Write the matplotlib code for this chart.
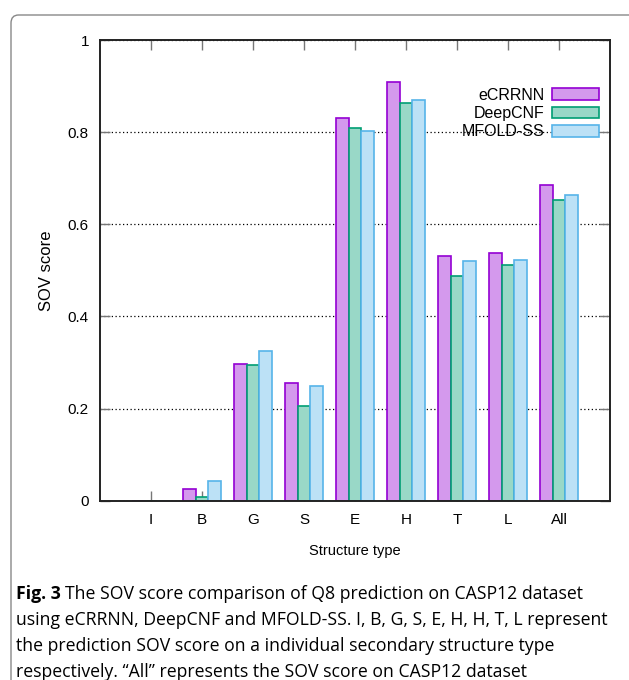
#!/usr/bin/env python3
"""SOV score comparison of Q8 prediction on CASP12 (eCRRNN, DeepCNF, MFOLD-SS)."""

import matplotlib

matplotlib.use("Agg")
import matplotlib.pyplot as plt
import numpy as np
from matplotlib.patches import FancyBboxPatch

categories = ["I", "B", "G", "S", "E", "H", "T", "L", "All"]
ecrrnn = [0.0, 0.025, 0.297, 0.256, 0.830, 0.908, 0.531, 0.538, 0.685]
deepcnf = [0.0, 0.008, 0.295, 0.205, 0.808, 0.863, 0.487, 0.511, 0.652]
mfold = [0.0, 0.043, 0.325, 0.248, 0.803, 0.869, 0.521, 0.523, 0.663]
series_names = ["eCRRNN", "DeepCNF", "MFOLD-SS"]
y_ticks = [0, 0.2, 0.4, 0.6, 0.8, 1.0]
y_tick_labels = ["0", "0.2", "0.4", "0.6", "0.8", "1"]

edge_colors = ["#9400d3", "#009e73", "#56b4e9"]
fill_colors = ["#d499ed", "#99d8c7", "#bce1f6"]

plt.rcParams["font.family"] = ["Liberation Sans Narrow", "Liberation Sans", "DejaVu Sans"]

W, H = 629, 680
fig = plt.figure(figsize=(W / 100, H / 100), dpi=100)

# rounded frame around figure and caption
frame = FancyBboxPatch(
    (11 / W, -20 / H), 660 / W, (H - 15 + 20) / H,
    boxstyle="round,pad=0,rounding_size=0.012",
    transform=fig.transFigure, facecolor="none", edgecolor="#888888", lw=1.0,
)
fig.patches.append(frame)

ax = fig.add_axes([100 / W, 1 - 500.7 / H, 510 / W, 460.7 / H])
x = np.arange(1, len(categories) + 1)
width = 0.25
for i, (vals, name) in enumerate(zip([ecrrnn, deepcnf, mfold], series_names)):
    ax.bar(
        x + (i - 1) * width, vals, width,
        facecolor=fill_colors[i], edgecolor=edge_colors[i], linewidth=1.2,
        label=name, zorder=2,
    )

ax.set_xlim(0, 10)
ax.set_ylim(0, 1)
ax.set_xticks(x)
ax.set_xticklabels(categories, fontsize=11)
ax.set_yticks(y_ticks)
ax.set_yticklabels(y_tick_labels, fontsize=11)
ax.tick_params(direction="in", length=7, width=1, color="#777777",
               top=True, right=True, pad=9)
ax.tick_params(axis="y", pad=8)
ax.yaxis.grid(True, linestyle=(0, (1, 2)), color="black", linewidth=0.9)
ax.set_axisbelow(True)
for spine in ax.spines.values():
    spine.set_linewidth(1.4)
    spine.set_color("#222222")

ax.set_ylabel("SOV score", fontsize=12, labelpad=10)
ax.set_xlabel("Structure type", fontsize=10.5, labelpad=12)

ax.legend(
    loc="upper right", bbox_to_anchor=(0.99, 0.91), frameon=False,
    markerfirst=False, fontsize=11.5, handlelength=2.9, handleheight=0.75,
    labelspacing=0.2, handletextpad=0.5, borderaxespad=0,
)

# caption
cap_font = ["Open Sans", "DejaVu Sans"]
cap_size = 12.7
fig.text(16 / W, 1 - 594 / H, "Fig. 3", fontsize=cap_size, fontweight="bold",
         family=cap_font, va="center")
fig.text(65 / W, 1 - 594 / H,
         "The SOV score comparison of Q8 prediction on CASP12 dataset",
         fontsize=cap_size, family=cap_font, va="center")
caption_lines = [
    "using eCRRNN, DeepCNF and MFOLD-SS. I, B, G, S, E, H, H, T, L represent",
    "the prediction SOV score on a individual secondary structure type",
    "respectively. \u201cAll\u201d represents the SOV score on CASP12 dataset",
]
for k, line in enumerate(caption_lines):
    fig.text(16 / W, 1 - (620 + 26 * k) / H, line, fontsize=cap_size,
             family=cap_font, va="center")

fig.savefig("out.png", dpi=100)
